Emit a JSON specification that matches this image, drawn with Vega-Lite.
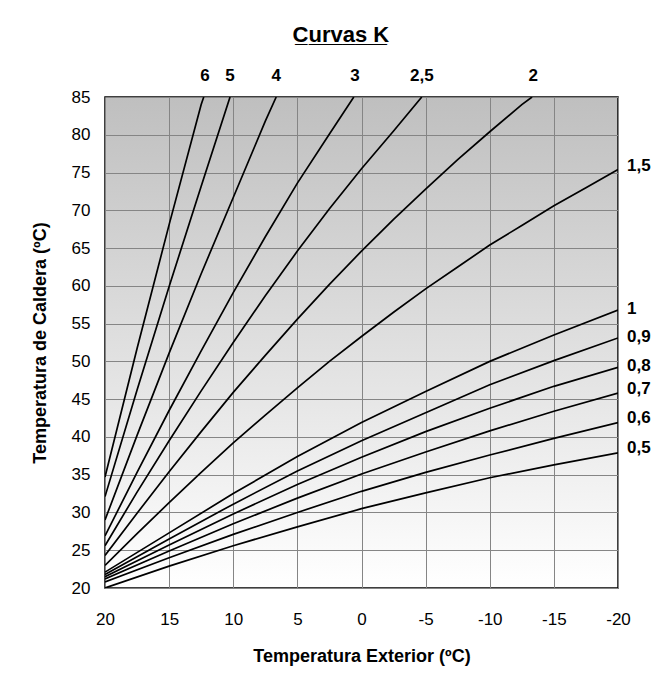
{
  "$schema": "https://vega.github.io/schema/vega-lite/v6.json",
  "width": 513,
  "height": 491,
  "autosize": "none",
  "padding": {"left": 105, "top": 97, "right": 39, "bottom": 86},
  "background": "white",
  "title": {
    "text": "C̲u̲r̲v̲a̲s̲ ̲K̲",
    "font": "Liberation Sans",
    "fontSize": 22,
    "fontWeight": "bold",
    "anchor": "middle",
    "frame": "bounds",
    "offset": 20,
    "color": "black"
  },
  "datasets": {
    "curves": [
      {"K": "0,5", "T": 20, "Y": 20.0}, {"K": "0,5", "T": 15, "Y": 22.9}, {"K": "0,5", "T": 10, "Y": 25.6}, {"K": "0,5", "T": 5, "Y": 28.1}, {"K": "0,5", "T": 0, "Y": 30.5}, {"K": "0,5", "T": -5, "Y": 32.6}, {"K": "0,5", "T": -10, "Y": 34.6}, {"K": "0,5", "T": -15, "Y": 36.3}, {"K": "0,5", "T": -20, "Y": 37.9},
      {"K": "0,6", "T": 20, "Y": 20.8}, {"K": "0,6", "T": 15, "Y": 24.0}, {"K": "0,6", "T": 10, "Y": 27.1}, {"K": "0,6", "T": 5, "Y": 30.0}, {"K": "0,6", "T": 0, "Y": 32.8}, {"K": "0,6", "T": -5, "Y": 35.3}, {"K": "0,6", "T": -10, "Y": 37.6}, {"K": "0,6", "T": -15, "Y": 39.8}, {"K": "0,6", "T": -20, "Y": 41.9},
      {"K": "0,7", "T": 20, "Y": 21.2}, {"K": "0,7", "T": 15, "Y": 24.9}, {"K": "0,7", "T": 10, "Y": 28.5}, {"K": "0,7", "T": 5, "Y": 31.9}, {"K": "0,7", "T": 0, "Y": 35.1}, {"K": "0,7", "T": -5, "Y": 38.0}, {"K": "0,7", "T": -10, "Y": 40.8}, {"K": "0,7", "T": -15, "Y": 43.4}, {"K": "0,7", "T": -20, "Y": 45.8},
      {"K": "0,8", "T": 20, "Y": 21.5}, {"K": "0,8", "T": 15, "Y": 25.7}, {"K": "0,8", "T": 10, "Y": 29.8}, {"K": "0,8", "T": 5, "Y": 33.7}, {"K": "0,8", "T": 0, "Y": 37.3}, {"K": "0,8", "T": -5, "Y": 40.7}, {"K": "0,8", "T": -10, "Y": 43.8}, {"K": "0,8", "T": -15, "Y": 46.7}, {"K": "0,8", "T": -20, "Y": 49.2},
      {"K": "0,9", "T": 20, "Y": 21.8}, {"K": "0,9", "T": 15, "Y": 26.5}, {"K": "0,9", "T": 10, "Y": 31.1}, {"K": "0,9", "T": 5, "Y": 35.5}, {"K": "0,9", "T": 0, "Y": 39.5}, {"K": "0,9", "T": -5, "Y": 43.2}, {"K": "0,9", "T": -10, "Y": 46.9}, {"K": "0,9", "T": -15, "Y": 50.1}, {"K": "0,9", "T": -20, "Y": 53.1},
      {"K": "1", "T": 20, "Y": 22.1}, {"K": "1", "T": 15, "Y": 27.3}, {"K": "1", "T": 10, "Y": 32.5}, {"K": "1", "T": 5, "Y": 37.4}, {"K": "1", "T": 0, "Y": 41.9}, {"K": "1", "T": -5, "Y": 46.0}, {"K": "1", "T": -10, "Y": 50.0}, {"K": "1", "T": -15, "Y": 53.5}, {"K": "1", "T": -20, "Y": 56.8},
      {"K": "1,5", "T": 20, "Y": 23.0}, {"K": "1,5", "T": 17.5, "Y": 27.2}, {"K": "1,5", "T": 15, "Y": 31.3}, {"K": "1,5", "T": 12.5, "Y": 35.3}, {"K": "1,5", "T": 10, "Y": 39.2}, {"K": "1,5", "T": 7.5, "Y": 42.9}, {"K": "1,5", "T": 5, "Y": 46.5}, {"K": "1,5", "T": 2.5, "Y": 50.0}, {"K": "1,5", "T": 0, "Y": 53.3}, {"K": "1,5", "T": -2.5, "Y": 56.5}, {"K": "1,5", "T": -5, "Y": 59.6}, {"K": "1,5", "T": -7.5, "Y": 62.5}, {"K": "1,5", "T": -10, "Y": 65.4}, {"K": "1,5", "T": -12.5, "Y": 68.0}, {"K": "1,5", "T": -15, "Y": 70.6}, {"K": "1,5", "T": -17.5, "Y": 73.0}, {"K": "1,5", "T": -20, "Y": 75.4},
      {"K": "2", "T": 20, "Y": 24.3}, {"K": "2", "T": 17.5, "Y": 29.9}, {"K": "2", "T": 15, "Y": 35.4}, {"K": "2", "T": 12.5, "Y": 40.7}, {"K": "2", "T": 10, "Y": 45.9}, {"K": "2", "T": 7.5, "Y": 50.8}, {"K": "2", "T": 5, "Y": 55.6}, {"K": "2", "T": 2.5, "Y": 60.2}, {"K": "2", "T": 0, "Y": 64.6}, {"K": "2", "T": -2.5, "Y": 68.8}, {"K": "2", "T": -5, "Y": 72.8}, {"K": "2", "T": -7.5, "Y": 76.7}, {"K": "2", "T": -10, "Y": 80.4}, {"K": "2", "T": -12.5, "Y": 84.0}, {"K": "2", "T": -13.3, "Y": 85.0},
      {"K": "2,5", "T": 20, "Y": 25.6}, {"K": "2,5", "T": 17.5, "Y": 32.7}, {"K": "2,5", "T": 15, "Y": 39.5}, {"K": "2,5", "T": 12.5, "Y": 46.1}, {"K": "2,5", "T": 10, "Y": 52.5}, {"K": "2,5", "T": 7.5, "Y": 58.7}, {"K": "2,5", "T": 5, "Y": 64.6}, {"K": "2,5", "T": 2.5, "Y": 70.2}, {"K": "2,5", "T": 0, "Y": 75.5}, {"K": "2,5", "T": -2.5, "Y": 80.5}, {"K": "2,5", "T": -4.7, "Y": 85.0},
      {"K": "3", "T": 20, "Y": 26.9}, {"K": "3", "T": 17.5, "Y": 35.3}, {"K": "3", "T": 15, "Y": 43.5}, {"K": "3", "T": 12.5, "Y": 51.4}, {"K": "3", "T": 10, "Y": 59.1}, {"K": "3", "T": 7.5, "Y": 66.5}, {"K": "3", "T": 5, "Y": 73.6}, {"K": "3", "T": 2.5, "Y": 80.1}, {"K": "3", "T": 0.6, "Y": 85.0},
      {"K": "4", "T": 20, "Y": 29.0}, {"K": "4", "T": 17.5, "Y": 40.2}, {"K": "4", "T": 15, "Y": 51.1}, {"K": "4", "T": 12.5, "Y": 61.6}, {"K": "4", "T": 10, "Y": 71.7}, {"K": "4", "T": 7.5, "Y": 81.8}, {"K": "4", "T": 6.65, "Y": 85.0},
      {"K": "5", "T": 20, "Y": 32.1}, {"K": "5", "T": 17.5, "Y": 46.2}, {"K": "5", "T": 15, "Y": 59.9}, {"K": "5", "T": 12.5, "Y": 73.2}, {"K": "5", "T": 10.25, "Y": 85.0},
      {"K": "6", "T": 20, "Y": 34.7}, {"K": "6", "T": 17.5, "Y": 51.7}, {"K": "6", "T": 15, "Y": 68.1}, {"K": "6", "T": 12.5, "Y": 84.0}, {"K": "6", "T": 12.3, "Y": 85.0}
    ],
    "toplabels": [
      {"lab": "6", "T": 12.2, "Y": 85},
      {"lab": "5", "T": 10.25, "Y": 85},
      {"lab": "4", "T": 6.65, "Y": 85},
      {"lab": "3", "T": 0.5, "Y": 85},
      {"lab": "2,5", "T": -4.7, "Y": 85},
      {"lab": "2", "T": -13.4, "Y": 85}
    ],
    "rightlabels": [
      {"lab": "1,5", "T": -20, "Y": 75.9},
      {"lab": "1", "T": -20, "Y": 56.9},
      {"lab": "0,9", "T": -20, "Y": 53.2},
      {"lab": "0,8", "T": -20, "Y": 49.4},
      {"lab": "0,7", "T": -20, "Y": 46.3},
      {"lab": "0,6", "T": -20, "Y": 42.5},
      {"lab": "0,5", "T": -20, "Y": 38.5}
    ]
  },
  "encoding": {
    "x": {
      "field": "T", "type": "quantitative",
      "scale": {"domain": [-20, 20], "reverse": true, "nice": false, "zero": false},
      "axis": {
        "title": "Temperatura Exterior (ºC)",
        "values": [20, 15, 10, 5, 0, -5, -10, -15, -20],
        "labelExpr": "'' + datum.value",
        "labelFlush": false,
        "labelOverlap": false,
        "labelPadding": 23,
        "titlePadding": 20
      }
    },
    "y": {
      "field": "Y", "type": "quantitative",
      "scale": {"domain": [20, 85], "nice": false, "zero": false},
      "axis": {
        "title": "Temperatura de Caldera (ºC)",
        "values": [20, 25, 30, 35, 40, 45, 50, 55, 60, 65, 70, 75, 80, 85],
        "labelFlush": false,
        "labelOverlap": false,
        "labelPadding": 15,
        "titlePadding": 22
      }
    }
  },
  "layer": [
    {
      "data": {"name": "curves"},
      "mark": {"type": "line", "color": "black", "strokeWidth": 1.7, "clip": true},
      "encoding": {
        "detail": {"field": "K"}
      }
    },
    {
      "data": {"name": "toplabels"},
      "mark": {"type": "text", "fontWeight": "bold", "fontSize": 17, "align": "center", "baseline": "middle", "dy": -21, "clip": false, "color": "black"},
      "encoding": {
        "text": {"field": "lab"}
      }
    },
    {
      "data": {"name": "rightlabels"},
      "mark": {"type": "text", "fontWeight": "bold", "fontSize": 17, "align": "left", "baseline": "middle", "dx": 9, "clip": false, "color": "black"},
      "encoding": {
        "text": {"field": "lab"}
      }
    }
  ],
  "config": {
    "font": "Liberation Sans",
    "view": {
      "stroke": "black",
      "strokeWidth": 1.5,
      "fill": {
        "gradient": "linear", "x1": 0, "y1": 0, "x2": 0, "y2": 1,
        "stops": [{"offset": 0, "color": "#bfbfbf"}, {"offset": 1, "color": "#ffffff"}]
      }
    },
    "axis": {
      "grid": true,
      "gridColor": "#858585",
      "gridWidth": 1,
      "gridOpacity": 1,
      "ticks": false,
      "domain": false,
      "labelFont": "Liberation Sans",
      "labelFontSize": 17,
      "labelColor": "black",
      "titleFont": "Liberation Sans",
      "titleFontSize": 18,
      "titleFontWeight": "bold",
      "titleColor": "black"
    }
  }
}
